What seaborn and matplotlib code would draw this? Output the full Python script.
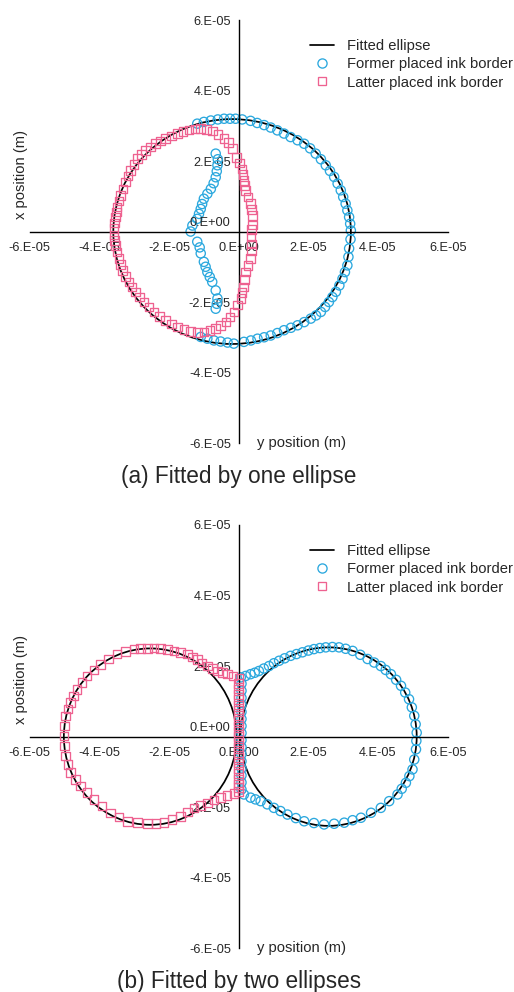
import numpy as np
import matplotlib
matplotlib.use("Agg")
import matplotlib.pyplot as plt
from matplotlib.patches import Ellipse
from matplotlib.lines import Line2D
import seaborn as sns

# positions are in units of 1E-05 m
UNIT = 1e-5

TICKS = [-6, -4, -2, 0, 2, 4, 6]
X_TICK_LABELS = ['-6.E-05', '-4.E-05', '-2.E-05', '0.E+00', '2.E-05', '4.E-05', '6.E-05']
Y_TICK_LABELS = ['-6.E-05', '-4.E-05', '-2.E-05', '', '2.E-05', '4.E-05', '6.E-05']
ZERO_LABEL = '0.E+00'

LEGEND_LABELS = ['Fitted ellipse', 'Former placed ink border', 'Latter placed ink border']
CAPTIONS = ['(a) Fitted by one ellipse', '(b) Fitted by two ellipses']
X_LABEL = 'x position (m)'
Y_LABEL = 'y position (m)'

# fitted ellipses: centre x, centre y, semi axis (y dir), semi axis (x dir)
TOP_ELLIPSES = [(-0.19, 0.0, 3.41, 3.19)]
BOTTOM_ELLIPSES = [(-2.54, 0.0, 2.48, 2.5), (2.58, 0.0, 2.53, 2.53)]

# (a) former placed border (blue circles)
TOP_FORMER = [
    (-1.19, 3.06), (-1.0, 3.11), (-0.8, 3.15), (-0.6, 3.18), (-0.42, 3.2), (-0.25, 3.2),
    (-0.09, 3.2), (0.1, 3.18), (0.34, 3.14), (0.53, 3.08), (0.73, 3.02), (0.92, 2.95),
    (1.11, 2.87), (1.3, 2.78), (1.49, 2.68), (1.69, 2.59), (1.88, 2.49), (2.05, 2.36),
    (2.21, 2.21), (2.36, 2.05), (2.5, 1.88), (2.62, 1.72), (2.74, 1.55), (2.84, 1.36),
    (2.93, 1.17), (3.0, 0.98), (3.07, 0.79), (3.12, 0.6), (3.17, 0.41), (3.2, 0.22),
    (3.22, 0.03), (3.21, -0.22), (3.17, -0.48), (3.15, -0.72), (3.12, -0.96), (3.05, -1.15),
    (2.98, -1.34), (2.89, -1.53), (2.79, -1.71), (2.69, -1.86), (2.59, -2.0), (2.48, -2.14),
    (2.36, -2.28), (2.22, -2.38), (2.07, -2.47), (1.88, -2.57), (1.69, -2.66), (1.5, -2.73),
    (1.3, -2.8), (1.11, -2.88), (0.92, -2.95), (0.73, -3.0), (0.54, -3.04), (0.35, -3.09),
    (0.15, -3.13), (-0.14, -3.18), (-0.32, -3.15), (-0.52, -3.12), (-0.71, -3.09),
    (-0.9, -3.04), (-1.09, -2.99),
    # inner part
    (-0.66, 2.21), (-0.6, 2.05), (-0.61, 1.88), (-0.63, 1.71), (-0.66, 1.54), (-0.72, 1.37),
    (-0.8, 1.21), (-0.9, 1.07), (-1.0, 0.93), (-1.05, 0.78), (-1.09, 0.64), (-1.14, 0.5),
    (-1.19, 0.36), (-1.33, 0.17), (-1.38, 0.0), (-1.19, -0.29), (-1.12, -0.45), (-1.09, -0.62),
    (-1.0, -0.86), (-0.95, -1.0), (-0.9, -1.15), (-0.83, -1.29), (-0.76, -1.43), (-0.66, -1.67),
    (-0.61, -1.9), (-0.63, -2.05), (-0.66, -2.19),
]

# (a) latter placed border (pink squares)
TOP_LATTER = [
    (-0.76, 2.85), (-0.92, 2.9), (-1.09, 2.92), (-1.26, 2.91), (-1.43, 2.88), (-1.6, 2.83),
    (-1.76, 2.78), (-1.93, 2.71), (-2.1, 2.64), (-2.25, 2.57), (-2.39, 2.49), (-2.53, 2.4),
    (-2.67, 2.3), (-2.79, 2.19), (-2.91, 2.07), (-3.0, 1.9), (-3.1, 1.73), (-3.18, 1.57),
    (-3.25, 1.4), (-3.32, 1.21), (-3.39, 1.02), (-3.44, 0.86), (-3.49, 0.7), (-3.51, 0.55),
    (-3.53, 0.41), (-3.56, 0.24), (-3.58, 0.08), (-3.58, -0.1), (-3.56, -0.25), (-3.53, -0.39),
    (-3.49, -0.58), (-3.44, -0.77), (-3.39, -0.94), (-3.34, -1.1), (-3.25, -1.27), (-3.15, -1.43),
    (-3.06, -1.57), (-2.96, -1.71), (-2.84, -1.86), (-2.72, -2.0), (-2.58, -2.14), (-2.43, -2.28),
    (-2.27, -2.41), (-2.1, -2.52), (-1.93, -2.62), (-1.76, -2.71), (-1.57, -2.78), (-1.38, -2.83),
    (-1.19, -2.86), (-1.0, -2.85), (-0.83, -2.81), (-0.66, -2.75), (-0.52, -2.67), (-0.37, -2.57),
    (-0.25, -2.43), (-0.14, -2.28),
    # inner part
    (-0.04, -2.08), (0.06, -1.9), (0.1, -1.73), (0.13, -1.57), (0.16, -1.36), (0.2, -1.15),
    (0.27, -0.96), (0.34, -0.77), (0.36, -0.55), (0.36, -0.35), (0.35, -0.15), (0.37, 0.05),
    (0.39, 0.18), (0.39, 0.45), (0.37, 0.62), (0.34, 0.79), (0.27, 0.98), (0.2, 1.16),
    (0.17, 1.3), (0.15, 1.45), (0.12, 1.62), (0.1, 1.78), (0.03, 1.95), (-0.06, 2.1),
    (-0.18, 2.35), (-0.3, 2.52), (-0.42, 2.64), (-0.6, 2.76),
]

# (b) former placed border (blue circles)
BOTTOM_FORMER = [
    (0.06, 1.68), (0.2, 1.72), (0.34, 1.77), (0.46, 1.81), (0.58, 1.86), (0.72, 1.93),
    (0.87, 2.0), (1.01, 2.08), (1.16, 2.15), (1.32, 2.22), (1.49, 2.29), (1.66, 2.34),
    (1.83, 2.39), (2.0, 2.44), (2.16, 2.48), (2.33, 2.51), (2.5, 2.53), (2.69, 2.54),
    (2.88, 2.53), (3.07, 2.49), (3.27, 2.43), (3.49, 2.32), (3.7, 2.2), (3.89, 2.1),
    (4.08, 2.0), (4.22, 1.89), (4.37, 1.77), (4.52, 1.61), (4.66, 1.44), (4.78, 1.25),
    (4.89, 1.06), (4.97, 0.83), (5.04, 0.59), (5.08, 0.35), (5.11, 0.11), (5.1, -0.12),
    (5.09, -0.36), (5.04, -0.65), (4.99, -0.93), (4.9, -1.12), (4.8, -1.31), (4.68, -1.48),
    (4.56, -1.64), (4.32, -1.83), (4.08, -2.02), (3.8, -2.16), (3.51, -2.3), (3.27, -2.37),
    (3.03, -2.44), (2.74, -2.47), (2.45, -2.49), (2.16, -2.45), (1.88, -2.4), (1.64, -2.31),
    (1.4, -2.21), (1.2, -2.11), (1.01, -2.02), (0.82, -1.92), (0.63, -1.83), (0.48, -1.78),
    (0.34, -1.73), (0.15, -1.64),
    # seam
    (0.08, 1.5), (0.08, 1.3), (0.08, 1.1), (0.08, 0.9), (0.08, 0.7), (0.08, 0.5),
    (0.08, 0.3), (0.08, 0.1), (0.08, -0.1), (0.08, -0.3), (0.08, -0.5), (0.08, -0.7),
    (0.08, -0.9), (0.08, -1.1), (0.08, -1.3), (0.08, -1.5),
]

# (b) latter placed border (pink squares)
BOTTOM_LATTER = [
    (0.01, 1.65), (-0.16, 1.72), (-0.32, 1.77), (-0.47, 1.81), (-0.61, 1.86), (-0.76, 1.93),
    (-0.9, 2.0), (-1.05, 2.09), (-1.19, 2.18), (-1.33, 2.26), (-1.47, 2.34), (-1.67, 2.39),
    (-1.86, 2.43), (-2.05, 2.47), (-2.24, 2.5), (-2.43, 2.51), (-2.62, 2.5), (-2.82, 2.49),
    (-3.01, 2.48), (-3.25, 2.42), (-3.49, 2.34), (-3.73, 2.2), (-3.97, 2.05), (-4.16, 1.89),
    (-4.35, 1.72), (-4.5, 1.53), (-4.64, 1.34), (-4.74, 1.15), (-4.83, 0.97), (-4.9, 0.78),
    (-4.97, 0.59), (-5.0, 0.3), (-5.02, 0.02), (-5.0, -0.27), (-4.97, -0.55), (-4.9, -0.79),
    (-4.83, -1.02), (-4.69, -1.21), (-4.54, -1.4), (-4.35, -1.59), (-4.16, -1.78), (-3.92, -1.97),
    (-3.68, -2.16), (-3.44, -2.28), (-3.2, -2.4), (-2.91, -2.44), (-2.62, -2.47), (-2.38, -2.46),
    (-2.15, -2.44), (-1.91, -2.35), (-1.67, -2.26), (-1.47, -2.14), (-1.28, -2.02), (-1.09, -1.95),
    (-0.9, -1.88), (-0.71, -1.8), (-0.52, -1.73), (-0.33, -1.67), (-0.14, -1.61), (0.0, -1.55),
    # seam
    (-0.01, 1.5), (-0.01, 1.35), (-0.01, 1.2), (-0.01, 1.05), (-0.01, 0.9), (-0.01, 0.75),
    (-0.01, 0.6), (-0.01, 0.45), (-0.01, 0.3), (-0.01, 0.15), (-0.01, 0.0), (-0.01, -0.15),
    (-0.01, -0.3), (-0.01, -0.45), (-0.01, -0.6), (-0.01, -0.75), (-0.01, -0.9), (-0.01, -1.05),
    (-0.01, -1.2), (-0.01, -1.35), (-0.01, -1.45),
]

BLUE = '#2BA8DE'
PINK = '#EE6290'
TEXT = '#262626'


def draw_panel(ax, ellipses, former, latter, caption):
    for cx, cy, ax_x, ax_y in ellipses:
        ax.add_patch(Ellipse((cx * UNIT, cy * UNIT), 2 * ax_x * UNIT, 2 * ax_y * UNIT,
                             fill=False, edgecolor='black', linewidth=1.25, zorder=1))

    fx, fy = np.array(former).T * UNIT
    lx, ly = np.array(latter).T * UNIT
    sns.scatterplot(x=fx, y=fy, marker='o', s=44, facecolor='none', edgecolor=BLUE,
                    linewidth=0.95, ax=ax, zorder=2)
    sns.scatterplot(x=lx, y=ly, marker='s', s=38, facecolor='none', edgecolor=PINK,
                    linewidth=0.95, ax=ax, zorder=3)

    lim = (TICKS[0] * UNIT, TICKS[-1] * UNIT)
    ax.set_xlim(lim)
    ax.set_ylim(lim)
    ax.set_xlabel('')
    ax.set_ylabel('')

    for side in ['top', 'right']:
        ax.spines[side].set_visible(False)
    for side in ['left', 'bottom']:
        ax.spines[side].set_position(('data', 0))
        ax.spines[side].set_color('black')
        ax.spines[side].set_linewidth(1.0)

    ticks = [t * UNIT for t in TICKS]
    ax.set_xticks(ticks)
    ax.set_xticklabels(X_TICK_LABELS)
    ax.set_yticks(ticks)
    ax.set_yticklabels(Y_TICK_LABELS)
    ax.tick_params(axis='both', direction='inout', length=4.5, width=1.0, color='black',
                   labelsize=9.2, labelcolor=TEXT)
    ax.tick_params(axis='x', pad=5)
    ax.tick_params(axis='y', pad=3.3)
    ax.annotate(ZERO_LABEL, xy=(0, 0), xytext=(-8, 9), textcoords='offset pixels',
                ha='right', va='center', fontsize=9.2, color=TEXT)

    ax.text(-6.26 * UNIT, 1.62 * UNIT, X_LABEL, rotation=90, ha='center', va='center',
            fontsize=10.6, color=TEXT, clip_on=False)
    ax.text(0.52 * UNIT, -6.0 * UNIT, Y_LABEL, ha='left', va='center',
            fontsize=10.6, color=TEXT, clip_on=False)
    ax.text(0, -6.95 * UNIT, caption, ha='center', va='center',
            fontsize=16.3, color=TEXT, clip_on=False)

    handles = [
        Line2D([], [], color='black', linewidth=1.25),
        Line2D([], [], marker='o', linestyle='none', markersize=6.6, markerfacecolor='none',
               markeredgecolor=BLUE, markeredgewidth=0.95),
        Line2D([], [], marker='s', linestyle='none', markersize=6.0, markerfacecolor='none',
               markeredgecolor=PINK, markeredgewidth=0.95),
    ]
    leg = ax.legend(handles, LEGEND_LABELS, loc='upper left', bbox_to_anchor=(0.6706, 0.9556),
                    frameon=False, fontsize=10.6, handlelength=1.65, handletextpad=0.85,
                    borderpad=0, borderaxespad=0, labelspacing=0.3)
    for t in leg.get_texts():
        t.set_color(TEXT)


def main():
    sns.set_theme(style='white')
    plt.rcParams['font.family'] = ['Liberation Sans', 'DejaVu Sans']

    fig = plt.figure(figsize=(5.14, 9.92), dpi=100)
    ax_top = fig.add_axes([0.0578, 0.5534, 0.8132, 0.4264])
    ax_bottom = fig.add_axes([0.0578, 0.0441, 0.8132, 0.4267])
    for a in (ax_top, ax_bottom):
        a.patch.set_alpha(0)

    draw_panel(ax_top, TOP_ELLIPSES, TOP_FORMER, TOP_LATTER, CAPTIONS[0])
    draw_panel(ax_bottom, BOTTOM_ELLIPSES, BOTTOM_FORMER, BOTTOM_LATTER, CAPTIONS[1])

    fig.savefig('out.png', dpi=100, facecolor='white')
    plt.close(fig)


if __name__ == '__main__':
    main()
